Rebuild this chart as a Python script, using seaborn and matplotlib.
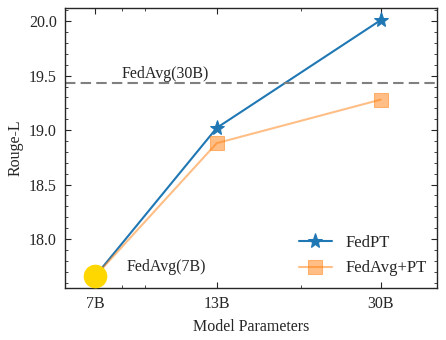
import matplotlib
matplotlib.use("Agg")
import matplotlib.pyplot as plt
import seaborn as sns
import pandas as pd
from matplotlib.ticker import FixedLocator, NullFormatter, MultipleLocator, LogLocator

params = [7, 13, 30]
tick_labels = ["7B", "13B", "30B"]
fedpt = [17.66, 19.02, 20.01]
fedavg_pt = [17.66, 18.88, 19.28]
fedavg_30b = 19.43
fedavg_7b = 17.66

sns.set_style("ticks")
plt.rcParams['font.family'] = ['Liberation Serif', 'DejaVu Serif']
plt.rcParams['mathtext.fontset'] = 'stix'

df = pd.DataFrame({
    "params": params * 2,
    "score": fedpt + fedavg_pt,
    "method": ["FedPT"] * 3 + ["FedAvg+PT"] * 3,
})

fig, ax = plt.subplots(figsize=(4.46, 3.4), dpi=100)

sns.lineplot(data=df[df.method == "FedPT"], x="params", y="score", ax=ax,
             color="#1f77b4", marker="*", markersize=11, linewidth=1.5,
             markeredgecolor="#1f77b4", label="FedPT")
sns.lineplot(data=df[df.method == "FedAvg+PT"], x="params", y="score", ax=ax,
             color="#ff7f0e", marker="s", markersize=10, linewidth=1.5,
             alpha=0.5, markeredgecolor="#ff7f0e", label="FedAvg+PT")

ax.axhline(fedavg_30b, color="gray", linestyle=(0, (5, 2.5)), linewidth=1.5)
ax.text(8.0, fedavg_30b + 0.01, "FedAvg(30B)", fontsize=11.5, va="bottom")
ax.plot([params[0]], [fedavg_7b], marker="o", markersize=16, color="gold",
        linestyle="none", zorder=5)
ax.text(8.2, 17.74, "FedAvg(7B)", fontsize=11.5, va="center")

ax.set_xscale("log")
ax.set_xlim(6, 40)
ax.set_ylim(17.55, 20.12)
ax.xaxis.set_major_locator(FixedLocator(params))
ax.set_xticklabels(tick_labels)
ax.xaxis.set_minor_locator(LogLocator(subs=[2, 3, 4, 5, 6, 7, 8, 9]))
ax.xaxis.set_minor_formatter(NullFormatter())
ax.yaxis.set_major_locator(MultipleLocator(0.5))
ax.yaxis.set_minor_locator(MultipleLocator(0.1))

ax.tick_params(which="both", direction="in", top=True, right=True, labelsize=11.5)
ax.tick_params(which="major", length=4.5, width=0.8, pad=6)
ax.tick_params(which="minor", length=2.2, width=0.6)
for s in ax.spines.values():
    s.set_linewidth(1.0)

ax.set_xlabel("Model Parameters", fontsize=11.5, labelpad=5)
ax.set_ylabel("Rouge-L", fontsize=11.5, labelpad=4)

ax.legend(loc="lower right", frameon=False, fontsize=12, handlelength=2.0,
          labelspacing=0.55, bbox_to_anchor=(1.012, -0.012))

fig.subplots_adjust(left=0.146, right=0.98, top=0.976, bottom=0.153)
fig.savefig("out.png", dpi=100)
